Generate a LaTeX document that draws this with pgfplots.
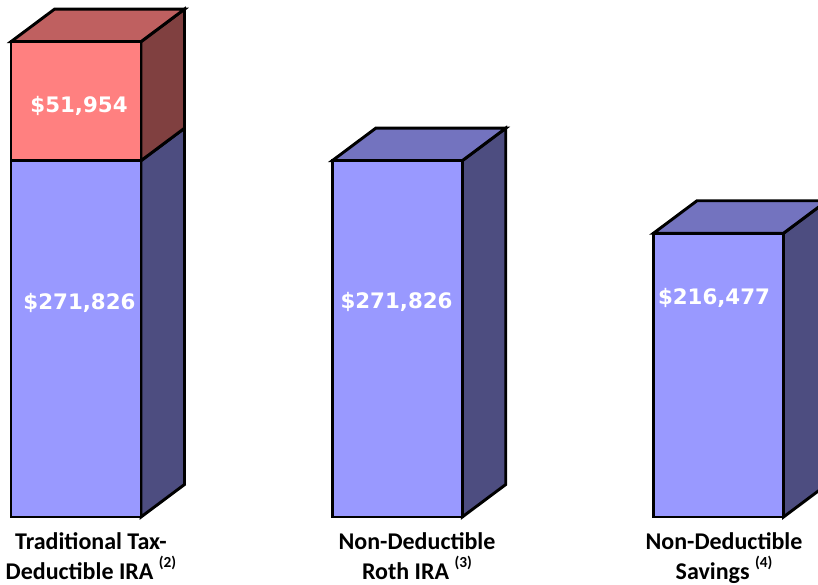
\documentclass[border=0pt]{standalone}
\usepackage{fontspec}
\setmainfont{Carlito}
\newfontfamily\valfont{DejaVu Sans}
\usepackage{pgfplots}
\pgfplotsset{compat=1.18}

\definecolor{bluefront}{HTML}{9999FF}
\definecolor{bluetop}{HTML}{7373BF}
\definecolor{blueside}{HTML}{4D4D80}
\definecolor{redfront}{HTML}{FF8080}
\definecolor{redtop}{HTML}{BF6060}
\definecolor{redside}{HTML}{804040}

\newcommand{\note}[1]{\raisebox{8.5pt}{\fontsize{11.5}{11.5}\selectfont\bfseries(#1)}}

\begin{document}
\begin{tikzpicture}[value/.style={font=\valfont\bfseries\fontsize{16}{16}\selectfont, text=white, anchor=center}]
\begin{axis}[
    name=ax,
    scale only axis,
    width=613.5pt, height=390pt,
    xmin=-0.23658, xmax=2.30973,
    ymin=-2289, ymax=394416,
    axis line style={draw=none},
    tick style={draw=none},
    ytick=\empty,
    xtick={0.0466,1.0615,2.0171},
    xticklabels={Traditional Tax-\\Deductible IRA \note{2},
                 Non-Deductible\\Roth IRA \note{3},
                 Non-Deductible\\Savings \note{4}},
    xticklabel style={align=center, anchor=north, inner sep=0pt, yshift=-9pt,
        font=\fontsize{18}{22.5}\selectfont\bfseries},
    every axis plot/.append style={draw=black, line width=2.2pt, mark=none},
]
% side and top faces (depth: 0.13541 in x, 24794 in y)
\addplot[fill=blueside] coordinates {(0.20233,0)(0.33774,24794)(0.33774,296620)(0.20233,271826)} -- cycle;
\addplot[fill=redside] coordinates {(0.20233,271826)(0.33774,296620)(0.33774,387420)(0.20233,362626)} -- cycle;
\addplot[fill=redtop] coordinates {(-0.20233,362626)(-0.06692,387420)(0.33774,387420)(0.20233,362626)} -- cycle;

\addplot[fill=blueside] coordinates {(1.20233,0)(1.33774,24794)(1.33774,296620)(1.20233,271826)} -- cycle;
\addplot[fill=bluetop] coordinates {(0.79767,271826)(0.93308,296620)(1.33774,296620)(1.20233,271826)} -- cycle;

\addplot[fill=blueside] coordinates {(2.20233,0)(2.33774,24794)(2.33774,241271)(2.20233,216477)} -- cycle;
\addplot[fill=bluetop] coordinates {(1.79767,216477)(1.93308,241271)(2.33774,241271)(2.20233,216477)} -- cycle;

% front faces
\addplot[ybar, bar width=0.40467, fill=redfront] coordinates {(0,362626)};
\addplot[ybar, bar width=0.40467, fill=bluefront] coordinates {(0,271826)(1,271826)(2,216477)};

\node[value] at (axis cs:0.0093,313785) {\$51,954};
\node[value] at (axis cs:0.0109,163488) {\$271,826};
\node[value] at (axis cs:0.9977,164022) {\$271,826};
\node[value] at (axis cs:1.986,167074) {\$216,477};
\end{axis}
\pgfresetboundingbox
\useasboundingbox ([yshift=-48.75pt]ax.south west) rectangle (ax.north east);
\end{tikzpicture}
\end{document}
